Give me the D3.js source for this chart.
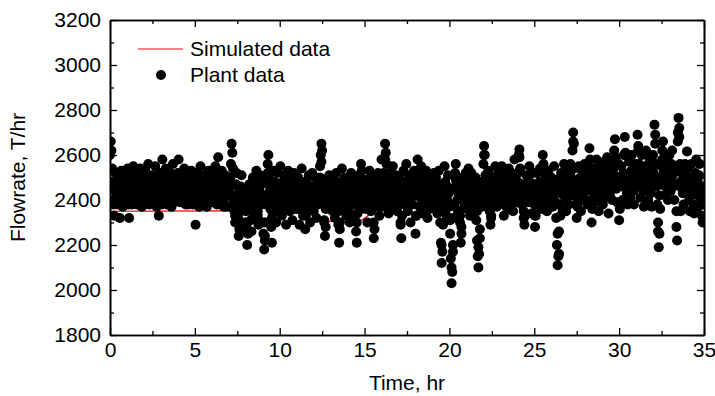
<!DOCTYPE html>
<html>
<head>
<meta charset="utf-8">
<script src="https://cdn.jsdelivr.net/npm/d3@7"></script>
<style>
  html, body { margin: 0; padding: 0; background: #fff; }
  svg { display: block; font-family: "Liberation Sans", Arial, Helvetica, sans-serif; }
</style>
</head>
<body>
<svg id="chart" width="715" height="396"></svg>
<script>
// ---- Data ----
const xMajorTicks = [0, 5, 10, 15, 20, 25, 30, 35];
const xMinorTicks = [2.5, 7.5, 12.5, 17.5, 22.5, 27.5, 32.5];
const yMajorTicks = [1800, 2000, 2200, 2400, 2600, 2800, 3000, 3200];
const yMinorTicks = [1900, 2100, 2300, 2500, 2700, 2900, 3100];

// Simulated data (red curve)
const simTime = [0, 6.8, 7.1, 8.15, 9.8, 11.0, 11.8, 13.0, 14.6, 15.5, 16.2, 16.7, 17.2, 18.5, 20.0, 20.8, 22.0, 24.5, 27.3, 30.1, 32.3, 33.8, 35];
const simFlow = [2350, 2352, 2362, 2450, 2468, 2400, 2313, 2305, 2305, 2350, 2400, 2432, 2450, 2440, 2432, 2423, 2428, 2455, 2493, 2476, 2493, 2533, 2550];

// Plant data: samples within each hour (hour index = array index), T/hr
const plantHourly = [
  [2600,2660,2620,2540,2450,2380,2330,2470,2520,2410,2380,2440,2500,2390,2320,2460,2530,2420,2370,2480,2440,2390,2510,2400],
  [2460,2540,2380,2320,2430,2510,2470,2380,2440,2550,2400,2390,2490,2450,2380,2520,2430,2400,2470,2540,2410,2370,2460,2500],
  [2420,2380,2530,2470,2390,2450,2560,2410,2380,2480,2440,2390,2510,2470,2390,2430,2550,2420,2370,2490,2450,2330,2400,2520],
  [2460,2380,2580,2500,2430,2390,2470,2540,2410,2380,2490,2450,2390,2520,2440,2370,2480,2560,2420,2390,2460,2510,2400,2440],
  [2520,2580,2460,2390,2440,2390,2500,2470,2410,2540,2430,2380,2480,2450,2380,2520,2410,2400,2470,2530,2430,2380,2490,2440],
  [2400,2290,2380,2460,2520,2430,2370,2490,2550,2410,2390,2470,2440,2390,2510,2460,2380,2370,2440,2530,2470,2400,2390,2480],
  [2450,2520,2410,2390,2480,2550,2430,2380,2470,2590,2510,2420,2380,2460,2530,2440,2390,2370,2470,2510,2420,2370,2450,2500],
  [2440,2370,2500,2460,2650,2610,2540,2420,2350,2300,2470,2520,2400,2330,2240,2270,2380,2460,2510,2430,2360,2300,2450,2410],
  [2350,2290,2200,2250,2400,2470,2380,2310,2260,2420,2500,2440,2370,2320,2480,2530,2410,2350,2290,2450,2510,2430,2380,2470],
  [2400,2250,2180,2220,2300,2420,2490,2560,2600,2510,2440,2360,2280,2210,2340,2460,2530,2420,2370,2300,2450,2520,2410,2380],
  [2460,2550,2400,2330,2480,2430,2370,2510,2440,2290,2380,2470,2530,2420,2350,2460,2500,2390,2310,2440,2520,2410,2360,2470],
  [2430,2360,2500,2450,2290,2380,2470,2540,2410,2330,2460,2400,2270,2350,2480,2430,2370,2510,2420,2300,2390,2460,2520,2410],
  [2350,2440,2500,2410,2320,2460,2380,2470,2420,2550,2600,2650,2620,2490,2400,2310,2240,2280,2420,2470,2380,2450,2510,2360],
  [2430,2380,2470,2350,2500,2440,2320,2410,2520,2460,2390,2290,2210,2270,2400,2480,2540,2420,2360,2440,2500,2370,2330,2450],
  [2400,2480,2350,2300,2430,2520,2460,2380,2330,2410,2490,2440,2260,2210,2340,2450,2510,2400,2360,2560,2530,2430,2380,2470],
  [2420,2360,2490,2440,2300,2390,2470,2530,2410,2350,2450,2500,2380,2230,2270,2410,2480,2440,2370,2520,2460,2330,2400,2480],
  [2580,2430,2370,2500,2460,2650,2610,2560,2480,2400,2340,2450,2520,2410,2360,2480,2550,2440,2390,2470,2510,2420,2350,2460],
  [2430,2500,2380,2290,2230,2330,2460,2530,2440,2380,2480,2560,2420,2350,2470,2510,2400,2300,2440,2490,2380,2450,2530,2420],
  [2250,2330,2470,2580,2520,2430,2370,2490,2550,2410,2340,2460,2500,2390,2440,2530,2380,2320,2460,2420,2360,2500,2450,2400],
  [2470,2380,2520,2440,2360,2500,2410,2340,2450,2530,2390,2300,2210,2120,2170,2290,2420,2550,2480,2400,2330,2460,2510,2430],
  [2370,2250,2140,2030,2080,2200,2320,2450,2520,2560,2470,2400,2350,2480,2430,2300,2210,2280,2410,2500,2440,2370,2460,2520],
  [2430,2360,2490,2540,2410,2330,2470,2520,2400,2350,2460,2420,2380,2500,2310,2220,2150,2100,2160,2270,2410,2480,2370,2450],
  [2560,2640,2600,2510,2440,2380,2470,2530,2410,2350,2290,2330,2460,2500,2420,2380,2480,2550,2440,2370,2460,2520,2410,2470],
  [2420,2490,2550,2460,2380,2330,2440,2510,2470,2400,2360,2480,2540,2430,2370,2460,2520,2410,2350,2470,2580,2500,2430,2390],
  [2460,2520,2600,2625,2540,2440,2380,2470,2410,2350,2290,2330,2450,2510,2430,2390,2490,2550,2460,2400,2340,2470,2520,2440],
  [2380,2280,2330,2460,2520,2430,2370,2480,2540,2410,2360,2470,2600,2560,2450,2390,2500,2440,2350,2470,2530,2420,2380,2460],
  [2500,2430,2370,2480,2550,2440,2390,2320,2200,2110,2150,2260,2380,2470,2520,2430,2360,2490,2560,2460,2410,2350,2480,2530],
  [2440,2380,2500,2560,2470,2420,2620,2700,2650,2540,2460,2380,2320,2410,2490,2550,2470,2400,2350,2480,2530,2450,2410,2560],
  [2470,2520,2440,2380,2560,2500,2630,2580,2450,2300,2360,2490,2540,2430,2390,2510,2580,2470,2410,2350,2480,2550,2460,2520],
  [2440,2380,2500,2570,2460,2410,2520,2590,2480,2340,2430,2510,2560,2460,2400,2490,2540,2620,2670,2590,2450,2390,2500,2560],
  [2310,2360,2480,2550,2460,2400,2520,2600,2680,2610,2490,2430,2380,2510,2570,2470,2410,2530,2600,2490,2440,2380,2500,2560],
  [2480,2540,2690,2640,2560,2470,2410,2520,2600,2500,2440,2370,2480,2550,2620,2520,2460,2400,2510,2580,2490,2430,2370,2540],
  [2600,2520,2735,2690,2560,2460,2380,2300,2190,2250,2360,2480,2550,2620,2660,2570,2490,2420,2510,2580,2470,2400,2530,2600],
  [2500,2440,2560,2620,2510,2460,2400,2550,2470,2280,2220,2700,2765,2680,2560,2350,2470,2520,2430,2380,2490,2560,2510,2450],
  [2616,2540,2470,2400,2350,2480,2560,2500,2430,2380,2340,2460,2520,2580,2490,2420,2370,2510,2560,2450,2400,2330,2300,2440]
];

// Plant data: additional samples within each hour, taken between the ones above
const plantHourlyExtra = [
  [2480,2450,2400,2470,2430,2500,2420,2460,2390,2450,2490,2430],
  [2440,2410,2480,2460,2390,2500,2430,2470,2420,2480,2450,2400],
  [2460,2430,2490,2410,2470,2440,2500,2420,2460,2390,2480,2450],
  [2420,2490,2450,2400,2470,2430,2500,2460,2410,2480,2440,2470],
  [2470,2430,2500,2410,2460,2440,2490,2420,2470,2400,2460,2430],
  [2400,2450,2420,2490,2440,2400,2470,2430,2500,2410,2460,2440],
  [2430,2470,2410,2500,2450,2420,2480,2440,2400,2460,2490,2430],
  [2420,2560,2470,2390,2330,2300,2410,2450,2390,2440,2380,2430],
  [2300,2260,2410,2350,2440,2400,2380,2460,2330,2420,2470,2410],
  [2300,2240,2380,2520,2470,2400,2320,2430,2480,2400,2360,2440],
  [2420,2470,2380,2450,2400,2460,2420,2480,2390,2450,2430,2410],
  [2400,2450,2360,2420,2480,2390,2330,2440,2410,2460,2380,2430],
  [2400,2460,2380,2440,2500,2570,2440,2300,2360,2430,2400,2470],
  [2410,2450,2390,2430,2470,2350,2300,2420,2460,2400,2440,2390],
  [2430,2390,2460,2410,2450,2380,2300,2400,2450,2480,2420,2440],
  [2400,2450,2420,2380,2460,2430,2300,2420,2470,2440,2400,2430],
  [2460,2520,2580,2420,2390,2450,2430,2470,2410,2440,2460,2400],
  [2450,2300,2400,2460,2430,2480,2410,2440,2390,2450,2470,2430],
  [2330,2500,2450,2410,2460,2430,2400,2470,2420,2380,2450,2430],
  [2430,2460,2400,2420,2470,2380,2200,2360,2460,2430,2400,2450],
  [2310,2100,2170,2380,2490,2440,2410,2330,2250,2430,2460,2410],
  [2420,2460,2390,2440,2410,2430,2460,2350,2190,2230,2420,2440],
  [2600,2480,2420,2460,2380,2320,2430,2470,2420,2500,2450,2430],
  [2460,2420,2490,2400,2440,2470,2410,2450,2420,2480,2440,2460],
  [2480,2590,2460,2410,2320,2440,2460,2410,2480,2430,2450,2470],
  [2330,2420,2470,2440,2400,2460,2530,2420,2450,2400,2470,2430],
  [2460,2410,2440,2490,2250,2160,2330,2450,2420,2480,2430,2460],
  [2470,2510,2450,2660,2480,2420,2370,2460,2500,2440,2470,2500],
  [2490,2450,2520,2480,2400,2460,2510,2440,2490,2430,2470,2500],
  [2460,2500,2440,2530,2470,2420,2490,2460,2510,2580,2470,2490],
  [2380,2470,2510,2600,2480,2450,2500,2470,2520,2460,2490,2470],
  [2500,2620,2530,2460,2490,2440,2520,2480,2510,2470,2450,2480],
  [2560,2650,2480,2260,2420,2500,2580,2520,2460,2510,2470,2500],
  [2480,2520,2470,2530,2350,2660,2720,2480,2450,2500,2470,2490],
  [2550,2460,2420,2480,2440,2500,2470,2490,2450,2420,2380,2460]
];

const legendLabels = ["Simulated data", "Plant data"];
const xTitle = "Time, hr";
const yTitle = "Flowrate, T/hr";

// ---- Build ----
const svg = d3.select("#chart");
const X0 = 110, X1 = 704, Y0 = 20, Y1 = 335;
const x = d3.scaleLinear().domain([0, 35]).range([X0, X1]);
const y = d3.scaleLinear().domain([1800, 3200]).range([Y1, Y0]);
const fontSize = 21;
const dotR = 5;

svg.append("defs").append("clipPath").attr("id", "clip")
  .append("rect").attr("x", X0).attr("y", Y0).attr("width", X1 - X0).attr("height", Y1 - Y0);

const plot = svg.append("g").attr("clip-path", "url(#clip)");

const simPts = simTime.map((t, i) => [t, simFlow[i]]);
plot.append("path")
  .datum(simPts)
  .attr("fill", "none")
  .attr("stroke", "#ff0000")
  .attr("stroke-width", 1.2)
  .attr("d", d3.line().x(d => x(d[0])).y(d => y(d[1])).curve(d3.curveMonotoneX));

const plantPts = [];
plantHourly.forEach((arr, h) => {
  arr.forEach((v, j) => plantPts.push([h + j / arr.length, v]));
});
plantHourlyExtra.forEach((arr, h) => {
  arr.forEach((v, j) => plantPts.push([h + (j + 0.5) / arr.length, v]));
});
plantPts.sort((a, b) => a[0] - b[0]);
plot.append("g").selectAll("circle")
  .data(plantPts).join("circle")
  .attr("cx", d => x(d[0]))
  .attr("cy", d => y(d[1]))
  .attr("r", dotR)
  .attr("fill", "#000");

function styleAxis(g) {
  g.selectAll(".domain").attr("stroke", "#000").attr("stroke-width", 1.6);
  g.selectAll(".tick line").attr("stroke", "#000").attr("stroke-width", 1.3);
  g.selectAll(".tick text").attr("font-size", fontSize).attr("fill", "#000")
    .attr("font-family", "'Liberation Sans', Arial, sans-serif");
}

// bottom
svg.append("g").attr("transform", `translate(0,${Y1})`)
  .call(d3.axisBottom(x).tickValues(xMajorTicks).tickSize(-7).tickSizeOuter(0).tickPadding(7).tickFormat(d3.format("d")))
  .call(styleAxis);
svg.append("g").attr("transform", `translate(0,${Y1})`)
  .call(d3.axisBottom(x).tickValues(xMinorTicks).tickSize(-4).tickSizeOuter(0).tickFormat(""))
  .call(styleAxis);
// top
svg.append("g").attr("transform", `translate(0,${Y0})`)
  .call(d3.axisTop(x).tickValues(xMajorTicks).tickSize(-7).tickSizeOuter(0).tickFormat(""))
  .call(styleAxis);
svg.append("g").attr("transform", `translate(0,${Y0})`)
  .call(d3.axisTop(x).tickValues(xMinorTicks).tickSize(-4).tickSizeOuter(0).tickFormat(""))
  .call(styleAxis);
// left
svg.append("g").attr("transform", `translate(${X0},0)`)
  .call(d3.axisLeft(y).tickValues(yMajorTicks).tickSize(-7).tickSizeOuter(0).tickPadding(9).tickFormat(d3.format("d")))
  .call(styleAxis);
svg.append("g").attr("transform", `translate(${X0},0)`)
  .call(d3.axisLeft(y).tickValues(yMinorTicks).tickSize(-4).tickSizeOuter(0).tickFormat(""))
  .call(styleAxis);
// right
svg.append("g").attr("transform", `translate(${X1},0)`)
  .call(d3.axisRight(y).tickValues(yMajorTicks).tickSize(-7).tickSizeOuter(0).tickFormat(""))
  .call(styleAxis);
svg.append("g").attr("transform", `translate(${X1},0)`)
  .call(d3.axisRight(y).tickValues(yMinorTicks).tickSize(-4).tickSizeOuter(0).tickFormat(""))
  .call(styleAxis);

// titles
svg.append("text").attr("x", (X0 + X1) / 2).attr("y", 390)
  .attr("text-anchor", "middle").attr("font-size", fontSize).attr("fill", "#000").text(xTitle);
svg.append("text").attr("transform", `translate(25,${(Y0 + Y1) / 2}) rotate(-90)`)
  .attr("text-anchor", "middle").attr("font-size", fontSize).attr("fill", "#000").text(yTitle);

// legend
const lg = svg.append("g");
lg.append("line").attr("x1", 138).attr("x2", 183).attr("y1", 49).attr("y2", 49)
  .attr("stroke", "#ff0000").attr("stroke-width", 1.2);
lg.append("text").attr("x", 190).attr("y", 49).attr("dy", "0.35em")
  .attr("font-size", fontSize).attr("fill", "#000").text(legendLabels[0]);
lg.append("circle").attr("cx", 161).attr("cy", 75).attr("r", dotR).attr("fill", "#000");
lg.append("text").attr("x", 190).attr("y", 75).attr("dy", "0.35em")
  .attr("font-size", fontSize).attr("fill", "#000").text(legendLabels[1]);
</script>
</body>
</html>
